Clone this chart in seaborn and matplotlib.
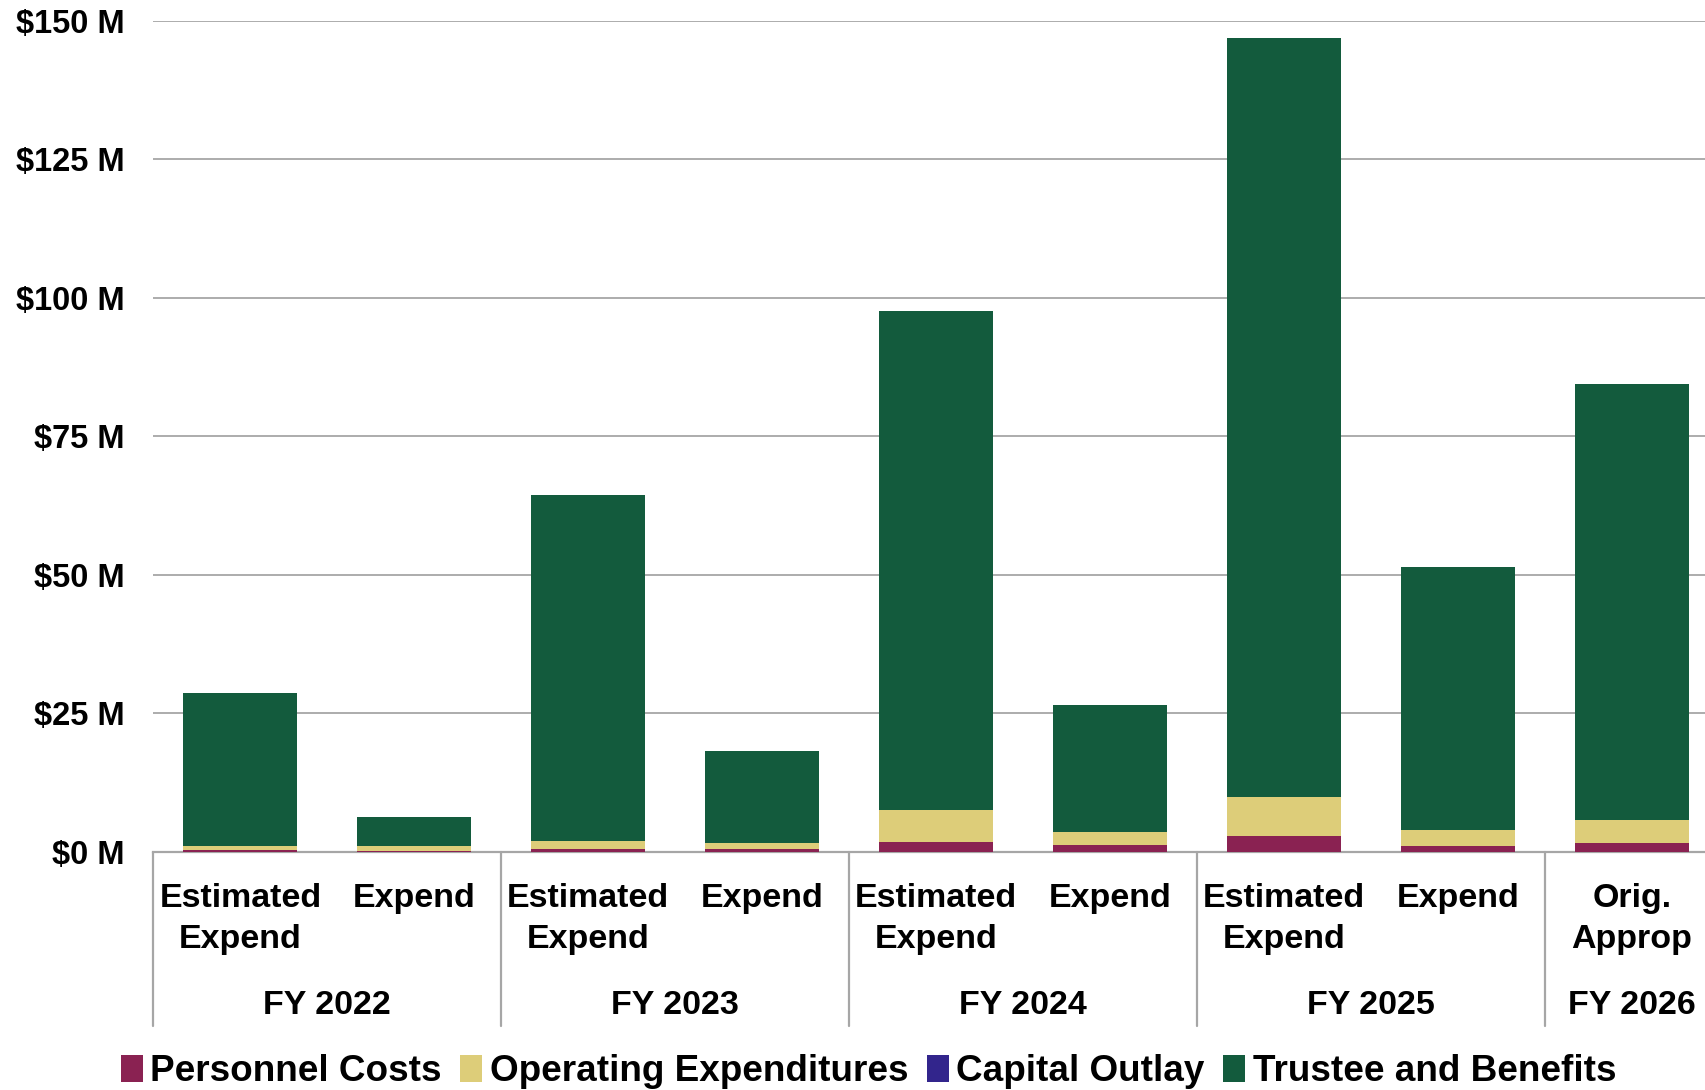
import numpy as np
import pandas as pd
import matplotlib
matplotlib.use("Agg")
import matplotlib.pyplot as plt
import matplotlib.transforms as mtransforms
from matplotlib.patches import Patch
import seaborn as sns

# ---- data (millions of dollars) ----
bar_labels = ["Estimated\nExpend", "Expend", "Estimated\nExpend", "Expend",
              "Estimated\nExpend", "Expend", "Estimated\nExpend", "Expend",
              "Orig.\nApprop"]
fiscal_years = ["FY 2022", "FY 2023", "FY 2024", "FY 2025", "FY 2026"]
personnel = [0.36, 0.1, 0.55, 0.5, 1.75, 1.15, 2.8, 0.95, 1.6]
operating = [0.6, 0.9, 1.4, 1.05, 5.7, 2.35, 7.1, 2.95, 4.1]
capital = [0.0, 0.0, 0.0, 0.0, 0.0, 0.0, 0.0, 0.0, 0.0]
trustee = [27.7, 5.3, 62.5, 16.7, 90.1, 23.0, 137.0, 47.5, 78.7]
series_names = ["Personnel Costs", "Operating Expenditures", "Capital Outlay",
                "Trustee and Benefits"]
y_ticks = [0, 25, 50, 75, 100, 125, 150]

colors = ["#8A2252", "#DDCD79", "#32258C", "#135B3D"]

sns.set_theme(style="white")
plt.rcParams["font.family"] = ["Liberation Sans", "DejaVu Sans"]
plt.rcParams["font.weight"] = "bold"
plt.rcParams["text.color"] = "black"

fig = plt.figure(figsize=(17.06, 10.90), dpi=100)
ax = fig.add_axes([0.0899, 0.2186, 0.9101, 0.7624])

ids = [str(i) for i in range(len(bar_labels))]
c1 = np.array(personnel)
c2 = c1 + np.array(operating)
c3 = c2 + np.array(capital)
c4 = c3 + np.array(trustee)
df = pd.DataFrame({"id": ids, "c1": c1, "c2": c2, "c3": c3, "c4": c4})

for col, color in zip(["c4", "c3", "c2", "c1"], colors[::-1]):
    sns.barplot(data=df, x="id", y=col, order=ids, color=color, width=0.656,
                saturation=1, ax=ax, edgecolor="none", linewidth=0, zorder=3)

ax.set_xlim(-0.5, 8.425)
ax.set_ylim(0, 150)
ax.set_yticks(y_ticks)
ax.set_yticklabels([f"${v} M" for v in y_ticks], fontsize=23.5,
                   fontweight="bold", color="black")
ax.tick_params(axis="y", length=0, pad=21)
ax.tick_params(axis="x", length=0, labelbottom=False)
ax.set_xlabel("")
ax.set_ylabel("")
for s in ["left", "right", "top"]:
    ax.spines[s].set_visible(False)
ax.spines["bottom"].set_color("#A6A6A6")
ax.spines["bottom"].set_linewidth(1.6)
ax.yaxis.grid(True, color="#A6A6A6", linewidth=1.3)
ax.set_axisbelow(True)

trans = mtransforms.blended_transform_factory(ax.transData, ax.transAxes)
ax_h_pts = 0.7624 * 10.90 * 72

# bar labels
for i, lab in enumerate(bar_labels):
    for j, line in enumerate(lab.split("\n")):
        off = 33.7 + j * 29.8
        ax.text(i, -off / ax_h_pts, line, transform=trans, ha="center",
                va="center", fontsize=24.5, fontweight="bold", color="black",
                clip_on=False)

# fiscal year labels
fy_pos = [0.5, 2.5, 4.5, 6.5, 8.0]
for pos, fy in zip(fy_pos, fiscal_years):
    ax.text(pos, -110.5 / ax_h_pts, fy, transform=trans, ha="center",
            va="center", fontsize=24.5, fontweight="bold", color="black",
            clip_on=False)

# group separators
for xs in [-0.5, 1.5, 3.5, 5.5, 7.5]:
    ax.plot([xs, xs], [0, -0.2095], transform=trans, color="#A6A6A6",
            linewidth=1.6, clip_on=False)

handles = [Patch(facecolor=c, edgecolor="none") for c in colors]
fig.legend(handles, series_names, loc="center", bbox_to_anchor=(0.509, 0.017),
           ncol=4, frameon=False, handlelength=0.6,
           handleheight=0.75, handletextpad=0.2, columnspacing=0.5,
           prop={"weight": "bold", "size": 26.6}, labelcolor="black")

fig.savefig("out.png", dpi=100)
